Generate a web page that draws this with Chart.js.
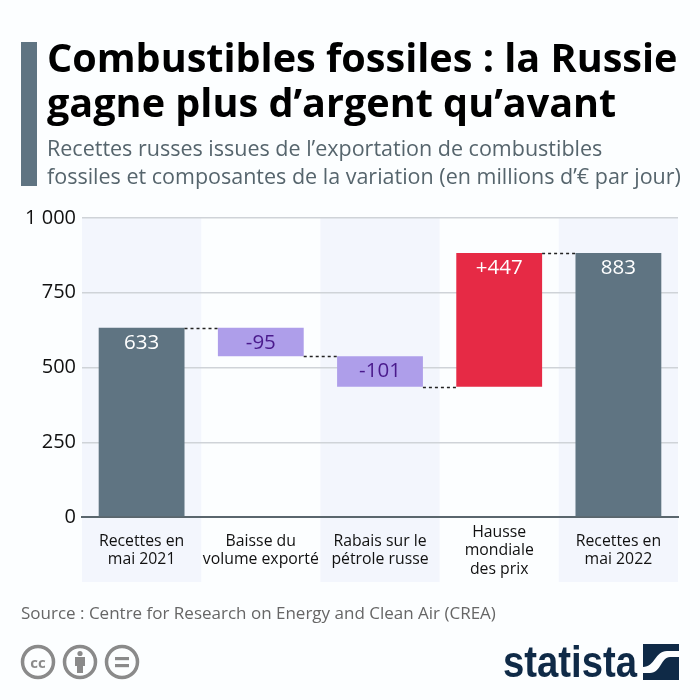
<!DOCTYPE html>
<html lang="fr">
<head>
<meta charset="utf-8">
<title>Combustibles fossiles</title>
<script src="https://cdn.jsdelivr.net/npm/chart.js@4"></script>
<style>
html, body { margin: 0; padding: 0; background: #fcfeff; }
#page { position: relative; width: 700px; height: 700px; overflow: hidden; font-family: "Open Sans", sans-serif; }
#chart { position: absolute; left: 0; top: 0; }
#accent { position: absolute; left: 21px; top: 42px; width: 16px; height: 144px; background: #5f7482; }
#title { position: absolute; left: 47px; top: 35px; font-size: 39.6px; line-height: 45px; font-weight: 700; color: #000; white-space: nowrap; }
#subtitle { position: absolute; left: 47px; top: 134px; font-size: 21.5px; line-height: 28px; color: #56656d; white-space: nowrap; }
#source { position: absolute; left: 21px; top: 602px; font-size: 17px; line-height: 22px; color: #666; white-space: nowrap; }
#cc { position: absolute; left: 20px; top: 644px; }
#logo { position: absolute; left: 503px; top: 638px; font-family: "Liberation Sans Narrow", "Liberation Sans", sans-serif; font-size: 44px; line-height: 48px; font-weight: 700; color: #0f2a47; transform: scaleX(0.87); transform-origin: left top; white-space: nowrap; }
#mark { position: absolute; left: 643px; top: 644px; }
</style>
</head>
<body>
<div id="page">
  <canvas id="chart" width="700" height="700"></canvas>
  <div id="accent"></div>
  <div id="title">Combustibles fossiles : la Russie<br>gagne plus d’argent qu’avant</div>
  <div id="subtitle">Recettes russes issues de l’exportation de combustibles<br>fossiles et composantes de la variation (en millions d’€ par jour)</div>
  <div id="source">Source : Centre for Research on Energy and Clean Air (CREA)</div>
  <svg id="cc" width="122" height="36" viewBox="0 0 122 36">
    <g fill="none" stroke="#8a8a8a" stroke-width="3.5">
      <circle cx="18" cy="18" r="15.5"/><circle cx="60" cy="18" r="15.5"/><circle cx="102" cy="18" r="15.5"/>
    </g>
    <text x="18" y="23.5" text-anchor="middle" font-family="Open Sans" font-weight="700" font-size="15" fill="#8a8a8a">cc</text>
    <g fill="#8a8a8a">
      <circle cx="60" cy="9.5" r="2.6"/><rect x="55" y="13" width="10" height="9"/><rect x="57" y="20" width="6" height="9"/>
      <rect x="95" y="13" width="14" height="3.2"/><rect x="95" y="20" width="14" height="3.2"/>
    </g>
  </svg>
  <div id="logo">statista</div>
  <svg id="mark" width="36" height="36" viewBox="0 0 36 36">
    <rect width="36" height="36" fill="#0f2a47"/>
    <path d="M0 23 C12 23 12 7 24 7 L36 7 L36 13 L27 13 C18 13 18 29 7 29 L0 29 Z" fill="#fcfeff"/>
  </svg>
</div>
<script>
const categories = [
    ['Recettes en', 'mai 2021'],
    ['Baisse du', 'volume exporté'],
    ['Rabais sur le', 'pétrole russe'],
    ['Hausse', 'mondiale', 'des prix'],
    ['Recettes en', 'mai 2022']
];
const barBottoms = [0, 538, 436, 436, 0];
const barTops = [633, 633, 538, 883, 883];
const valueLabels = ['633', '-95', '-101', '+447', '883'];
const connectorLevels = [633, 538, 436, 883];
const yTicks = [0, 250, 500, 750, 1000];
const yTickLabels = ['0', '250', '500', '750', '1 000'];

const barColors = ['#5f7482', '#ae9eea', '#ae9eea', '#e62a45', '#5f7482'];
const labelColors = ['#ffffff', '#4a1a8c', '#4a1a8c', '#ffffff', '#ffffff'];

const waterfallPlugin = {
    id: 'waterfall',
    beforeDraw(chart) {
        const { ctx, chartArea, scales: { x } } = chart;
        const band = x.getPixelForValue(1) - x.getPixelForValue(0);
        ctx.save();
        ctx.fillStyle = '#f3f6fd';
        categories.forEach((c, i) => {
            if (i % 2 === 0) {
                ctx.fillRect(x.getPixelForValue(i) - band / 2, chartArea.top, band, 582 - chartArea.top);
            }
        });
        ctx.restore();
    },
    afterDatasetsDraw(chart) {
        const { ctx, scales: { x, y } } = chart;
        const bars = chart.getDatasetMeta(0).data;
        ctx.save();

        // pointillés entre les barres
        ctx.strokeStyle = '#222';
        ctx.lineWidth = 1.3;
        ctx.setLineDash([3, 3]);
        connectorLevels.forEach((level, i) => {
            const py = Math.round(y.getPixelForValue(level)) + 0.5;
            ctx.beginPath();
            ctx.moveTo(bars[i].x + bars[i].width / 2, py);
            ctx.lineTo(bars[i + 1].x - bars[i + 1].width / 2, py);
            ctx.stroke();
        });
        ctx.setLineDash([]);

        // valeurs dans les barres
        ctx.font = '20.5px "Open Sans"';
        ctx.textAlign = 'center';
        ctx.textBaseline = 'middle';
        valueLabels.forEach((label, i) => {
            ctx.fillStyle = labelColors[i];
            ctx.fillText(label, bars[i].x, y.getPixelForValue(barTops[i]) + 15.5);
        });

        // catégories centrées verticalement sous l'axe
        ctx.font = '15.8px "Open Sans"';
        ctx.fillStyle = '#111';
        categories.forEach((lines, i) => {
            const first = 550.5 - (lines.length - 1) * 18.5 / 2;
            lines.forEach((line, j) => {
                ctx.fillText(line, x.getPixelForValue(i), first + j * 18.5);
            });
        });
        ctx.restore();
    }
};

new Chart(document.getElementById('chart').getContext('2d'), {
    type: 'bar',
    data: {
        labels: categories,
        datasets: [{
            data: barBottoms.map((b, i) => [b, barTops[i]]),
            backgroundColor: barColors,
            categoryPercentage: 1,
            barPercentage: 0.72,
            borderSkipped: false
        }]
    },
    options: {
        responsive: false,
        animation: false,
        layout: { padding: { left: 0, right: 22, top: 218, bottom: 183 } },
        plugins: { legend: { display: false }, tooltip: { enabled: false } },
        scales: {
            x: {
                afterFit(scale) { scale.height = 0; },
                grid: { display: false },
                border: { color: '#5a666d', width: 2 },
                ticks: { display: false }
            },
            y: {
                min: 0,
                max: 1000,
                afterFit(scale) { scale.width = 82; },
                afterBuildTicks(scale) { scale.ticks = yTicks.map(value => ({ value })); },
                border: { display: false },
                grid: { color: '#cfd3d8', lineWidth: 1.5, drawTicks: false },
                ticks: {
                    padding: 6,
                    color: '#111',
                    font: { family: '"Open Sans"', size: 20 },
                    callback: (value) => yTickLabels[yTicks.indexOf(value)]
                }
            }
        }
    },
    plugins: [waterfallPlugin]
});
</script>
</body>
</html>
